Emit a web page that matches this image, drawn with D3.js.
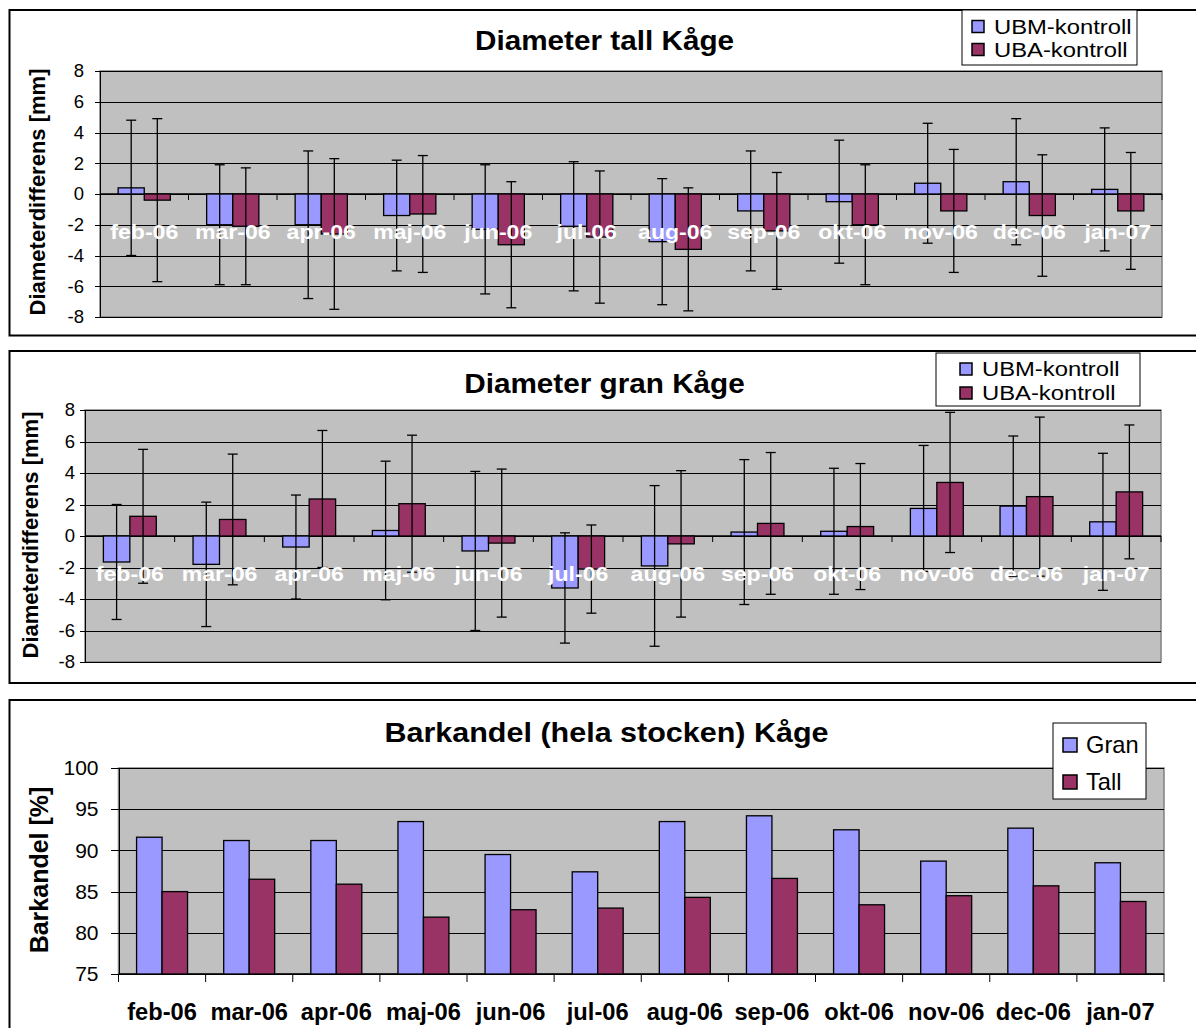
<!DOCTYPE html>
<html>
<head>
<meta charset="utf-8">
<script src="https://d3js.org/d3.v7.min.js"></script>
<style>
body { margin: 0; background: #fff; }
svg { display: block; font-family: "Liberation Sans", Arial, sans-serif; }
.grid line { stroke: #000; stroke-width: 1; shape-rendering: crispEdges; }
.grid path { stroke-width: 0; }
.yaxis path, .yaxis line { stroke: #000; shape-rendering: crispEdges; }
.yaxis text { fill: #000; }
</style>
</head>
<body>
<script>
// categories
var months = ["feb-06", "mar-06", "apr-06", "maj-06", "jun-06", "jul-06",
              "aug-06", "sep-06", "okt-06", "nov-06", "dec-06", "jan-07"];
var diffSeries = ["UBM-kontroll", "UBA-kontroll"];
var barkSeries = ["Gran", "Tall"];
var diffTicks = [-8, -6, -4, -2, 0, 2, 4, 6, 8];
var barkTicks = [75, 80, 85, 90, 95, 100];

// Diameter tall (mean and error)
var tallUBM    = [0.4, -2.0, -2.0, -1.4, -2.3, -2.1, -3.1, -1.1, -0.5, 0.7, 0.8, 0.3];
var tallUBMerr = [4.4, 3.9, 4.8, 3.6, 4.2, 4.2, 4.1, 3.9, 4.0, 3.9, 4.1, 4.0];
var tallUBA    = [-0.4, -2.1, -2.6, -1.3, -3.3, -2.8, -3.6, -2.4, -2.0, -1.1, -1.4, -1.1];
var tallUBAerr = [5.3, 3.8, 4.9, 3.8, 4.1, 4.3, 4.0, 3.8, 3.9, 4.0, 3.95, 3.8];

// Diameter gran
var granUBM    = [-1.65, -1.8, -0.7, 0.35, -0.95, -3.3, -1.9, 0.25, 0.3, 1.75, 1.9, 0.9];
var granUBMerr = [3.65, 3.95, 3.3, 4.4, 5.05, 3.5, 5.1, 4.6, 4.0, 4.0, 4.45, 4.35];
var granUBA    = [1.25, 1.05, 2.35, 2.05, -0.45, -2.1, -0.5, 0.8, 0.6, 3.4, 2.5, 2.8];
var granUBAerr = [4.25, 4.15, 4.35, 4.35, 4.7, 2.8, 4.65, 4.5, 4.0, 4.45, 5.05, 4.25];

// Barkandel
var barkGran = [91.6, 91.2, 91.2, 93.5, 89.5, 87.4, 93.5, 94.2, 92.5, 88.7, 92.7, 88.5];
var barkTall = [85.0, 86.5, 85.9, 81.9, 82.8, 83.0, 84.3, 86.6, 83.4, 84.5, 85.7, 83.8];

var color = d3.scaleOrdinal().range(["#9999FF", "#993366"]);

var svg = d3.select("body").append("svg")
    .attr("width", 1196).attr("height", 1028);

// text stretched a bit horizontally, like the original rendering
function stext(g, x, y, str, size, bold, sx, anchor, rot) {
  var t = "translate(" + x + "," + y + ")" + (rot ? " rotate(-90)" : "") + " scale(" + sx + ",1)";
  return g.append("text")
    .attr("transform", t)
    .attr("font-size", size + "px")
    .attr("font-weight", bold ? "bold" : "normal")
    .attr("text-anchor", anchor || "middle")
    .text(str);
}

function panelBox(top, bottom) {
  svg.append("rect")
    .attr("x", 9.5).attr("y", top)
    .attr("width", 1220).attr("height", bottom - top)
    .attr("fill", "#fff").attr("stroke", "#000").attr("stroke-width", 2);
}

function legend(lg, names) {
  var g = svg.append("g");
  g.append("rect")
    .attr("x", lg.x).attr("y", lg.y).attr("width", lg.w).attr("height", lg.h)
    .attr("fill", "#fff").attr("stroke", "#000").attr("stroke-width", 1);
  names.forEach(function(n, i) {
    var cy = lg.rows[i];
    g.append("rect")
      .attr("x", lg.mx).attr("y", cy - lg.ms / 2)
      .attr("width", lg.ms).attr("height", lg.ms)
      .attr("fill", color(i)).attr("stroke", "#000").attr("stroke-width", 1.5);
    stext(g, lg.tx, cy + lg.fs * 0.36, n, lg.fs, false, lg.sx, "start");
  });
}

function drawDiff(c) {
  panelBox(c.boxTop, c.boxBottom);
  var p = c.plot;
  var g = svg.append("g");

  var y = d3.scaleLinear().domain([-8, 8]).range([p.b, p.t]);
  var xc = d3.scaleBand().domain(months).range([p.l, p.r]);
  var groupW = xc.bandwidth() * 0.59;
  var x1 = d3.scaleBand().domain([0, 1]).range([0, groupW]);

  g.append("rect")
    .attr("x", p.l).attr("y", p.t).attr("width", p.r - p.l).attr("height", p.b - p.t)
    .attr("fill", "#C0C0C0").attr("stroke", "#808080").attr("stroke-width", 1.5);

  g.append("g").attr("class", "grid")
    .attr("transform", "translate(" + p.l + ",0)")
    .call(d3.axisLeft(y).tickValues(diffTicks).tickSize(-(p.r - p.l)).tickFormat(""));

  var yax = g.append("g").attr("class", "yaxis")
    .attr("transform", "translate(" + p.l + ",0)")
    .call(d3.axisLeft(y).tickValues(diffTicks).tickSize(5).tickPadding(c.tickPad)
      .tickSizeOuter(0).tickFormat(function(d) { return String(d); }));
  yax.selectAll("text").attr("font-size", "18.5px").attr("font-family", "Liberation Sans, Arial, sans-serif");

  // zero line and category ticks
  g.append("line")
    .attr("x1", p.l).attr("x2", p.r).attr("y1", y(0)).attr("y2", y(0))
    .attr("stroke", "#000").attr("stroke-width", 1.3);
  g.selectAll(".ctick").data(months.slice(1).concat(["end"])).enter().append("line")
    .attr("x1", function(d) { return d === "end" ? p.r : xc(d); })
    .attr("x2", function(d) { return d === "end" ? p.r : xc(d); })
    .attr("y1", y(0)).attr("y2", y(0) + 6)
    .attr("stroke", "#000").attr("stroke-width", 1);

  var rows = months.map(function(m, i) {
    return [
      {m: m, s: 0, v: c.a[i], e: c.aErr[i]},
      {m: m, s: 1, v: c.b[i], e: c.bErr[i]}
    ];
  });
  var flat = [].concat.apply([], rows);
  var bx = function(d) { return xc(d.m) + (xc.bandwidth() - groupW) / 2 + x1(d.s); };

  g.selectAll(".bar").data(flat).enter().append("rect")
    .attr("x", bx)
    .attr("y", function(d) { return y(Math.max(0, d.v)); })
    .attr("width", x1.bandwidth())
    .attr("height", function(d) { return Math.abs(y(d.v) - y(0)); })
    .attr("fill", function(d) { return color(d.s); })
    .attr("stroke", "#000").attr("stroke-width", 1.3);

  // error bars
  var eb = g.selectAll(".err").data(flat).enter().append("g")
    .attr("transform", function(d) { return "translate(" + (bx(d) + x1.bandwidth() / 2) + ",0)"; });
  eb.append("line")
    .attr("y1", function(d) { return y(d.v + d.e); })
    .attr("y2", function(d) { return y(d.v - d.e); })
    .attr("stroke", "#000").attr("stroke-width", 1.3);
  eb.append("line").attr("x1", -5).attr("x2", 5)
    .attr("y1", function(d) { return y(d.v + d.e); }).attr("y2", function(d) { return y(d.v + d.e); })
    .attr("stroke", "#000").attr("stroke-width", 1.3);
  eb.append("line").attr("x1", -5).attr("x2", 5)
    .attr("y1", function(d) { return y(d.v - d.e); }).attr("y2", function(d) { return y(d.v - d.e); })
    .attr("stroke", "#000").attr("stroke-width", 1.3);

  // white month labels just under the zero line
  months.forEach(function(m) {
    stext(g, xc(m) + xc.bandwidth() / 2, y(0) + 44.5, m, 21, true, 1.1)
      .attr("fill", "#fff");
  });

  stext(g, 604.5, c.titleY, c.title, 27, true, 1.1);
  stext(g, c.ylabX, c.ylabY, "Diameterdifferens [mm]", 22, true, 1.0, "middle", true);

  legend(c.legend, diffSeries);
}

drawDiff({
  boxTop: 10, boxBottom: 335.5,
  plot: {l: 100, r: 1162, t: 71, b: 317},
  tickPad: 11,
  title: "Diameter tall Kåge", titleY: 50,
  ylabX: 45, ylabY: 192,
  a: tallUBM, aErr: tallUBMerr, b: tallUBA, bErr: tallUBAerr,
  legend: {x: 962, y: 10, w: 175, h: 55, mx: 972, ms: 12, tx: 994, rows: [26.5, 49.5], fs: 20, sx: 1.19}
});

drawDiff({
  boxTop: 351, boxBottom: 683,
  plot: {l: 85, r: 1161, t: 410, b: 662},
  tickPad: 5,
  title: "Diameter gran Kåge", titleY: 393,
  ylabX: 38, ylabY: 535,
  a: granUBM, aErr: granUBMerr, b: granUBA, bErr: granUBAerr,
  legend: {x: 936, y: 353, w: 204, h: 53, mx: 960, ms: 12, tx: 982, rows: [369, 393], fs: 20, sx: 1.19}
});

// Barkandel panel
(function() {
  panelBox(700, 1045);
  var p = {l: 118.5, r: 1164, t: 768, b: 974};
  var g = svg.append("g");
  var y = d3.scaleLinear().domain([75, 100]).range([p.b, p.t]);
  var xc = d3.scaleBand().domain(months).range([p.l, p.r]);
  var groupW = xc.bandwidth() * 0.585;
  var x1 = d3.scaleBand().domain([0, 1]).range([0, groupW]);

  g.append("rect")
    .attr("x", p.l).attr("y", p.t).attr("width", p.r - p.l).attr("height", p.b - p.t)
    .attr("fill", "#C0C0C0").attr("stroke", "#808080").attr("stroke-width", 1.5);

  g.append("g").attr("class", "grid")
    .attr("transform", "translate(" + p.l + ",0)")
    .call(d3.axisLeft(y).tickValues(barkTicks).tickSize(-(p.r - p.l)).tickFormat(""));

  var yax = g.append("g").attr("class", "yaxis")
    .attr("transform", "translate(" + p.l + ",0)")
    .call(d3.axisLeft(y).tickValues(barkTicks).tickSize(8).tickPadding(12).tickSizeOuter(0));
  yax.selectAll("text").attr("font-size", "21px").attr("font-family", "Liberation Sans, Arial, sans-serif");

  g.append("line")
    .attr("x1", p.l).attr("x2", p.r).attr("y1", p.b).attr("y2", p.b)
    .attr("stroke", "#000").attr("stroke-width", 1.5);
  g.selectAll(".ctick").data(months.concat(["end"])).enter().append("line")
    .attr("x1", function(d) { return d === "end" ? p.r : xc(d); })
    .attr("x2", function(d) { return d === "end" ? p.r : xc(d); })
    .attr("y1", p.b).attr("y2", p.b + 8)
    .attr("stroke", "#000").attr("stroke-width", 1);

  var flat = [];
  months.forEach(function(m, i) {
    flat.push({m: m, s: 0, v: barkGran[i]});
    flat.push({m: m, s: 1, v: barkTall[i]});
  });
  g.selectAll(".bar").data(flat).enter().append("rect")
    .attr("x", function(d) { return xc(d.m) + (xc.bandwidth() - groupW) / 2 + x1(d.s); })
    .attr("y", function(d) { return y(d.v); })
    .attr("width", x1.bandwidth())
    .attr("height", function(d) { return p.b - y(d.v); })
    .attr("fill", function(d) { return color(d.s); })
    .attr("stroke", "#000").attr("stroke-width", 1.3);

  months.forEach(function(m) {
    stext(g, xc(m) + xc.bandwidth() / 2, 1020, m, 23, true, 1.03);
  });

  stext(g, 606.5, 742, "Barkandel (hela stocken) Kåge", 28, true, 1.09);
  stext(g, 48, 870, "Barkandel [%]", 25, true, 1.0, "middle", true);

  legend({x: 1053, y: 723, w: 93, h: 76, mx: 1063, ms: 14, tx: 1086, rows: [745, 782], fs: 23, sx: 1.03}, barkSeries);
})();
</script>
</body>
</html>
